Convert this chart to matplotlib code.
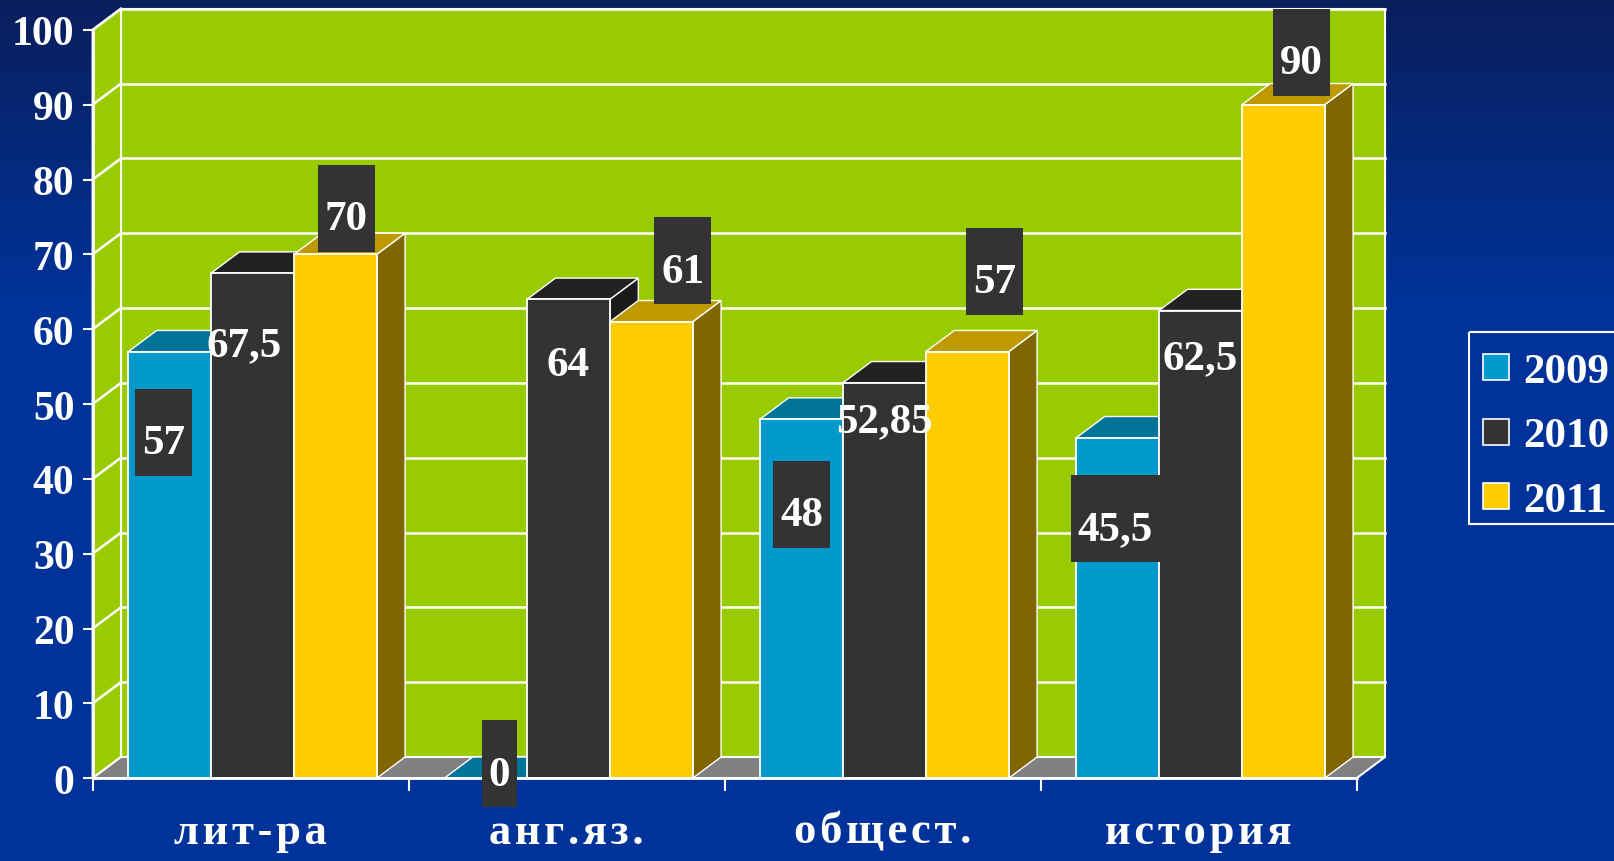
import numpy as np
import matplotlib
matplotlib.use('Agg')
import matplotlib.pyplot as plt
from matplotlib.patches import Polygon, Rectangle

# data
categories = ['лит-ра', 'анг.яз.', 'общест.', 'история']
years = ['2009', '2010', '2011']
vals_2009 = [57, 0, 48, 45.5]
vals_2010 = [67.5, 64, 52.85, 62.5]
vals_2011 = [70, 61, 57, 90]
text_2009 = ['57', '0', '48', '45,5']
text_2010 = ['67,5', '64', '52,85', '62,5']
text_2011 = ['70', '61', '57', '90']

# where the data labels sit, relative to bar top (value units) and bar centre (category units)
lab_dy = [[-11.7, 1.0, -12.3, -11.7], [-9.1, -8.3, -4.55, -5.8], [5.2, 7.2, 9.8, 6.1]]
lab_dx = [[-0.02, 0.043, 0.0, -0.008], [-0.027, 0.0, 0.0, 0.0], [0.034, 0.10, 0.086, 0.057]]

front = ['#0099cc', '#333333', '#ffcc00']
top = ['#007399', '#222222', '#bf9900']
side = ['#005a78', '#1a1a1a', '#806600']
wall = '#99cc00'


def main():
    plt.rcParams['font.family'] = ['Liberation Serif', 'DejaVu Serif']
    plt.rcParams['font.weight'] = 'bold'

    W, H = 1614, 862
    fig = plt.figure(figsize=(W / 100, H / 100), dpi=100)

    # background
    bg = fig.add_axes([0, 0, 1, 1])
    bg.set_xlim(0, W)
    bg.set_ylim(H, 0)
    bg.axis('off')
    t = np.clip(np.linspace(0, 1, H) / 0.35, 0, 1)[:, None, None]
    c0 = np.array([10, 30, 92]) / 255
    c1 = np.array([0, 51, 153]) / 255
    grad = c0 * (1 - t) + c1 * t
    bg.imshow(grad, extent=[0, W, H, 0], aspect='auto', zorder=0)

    # plot front plane
    ax = fig.add_axes([92.6 / W, 1 - 779.2 / H, 1264 / W, 748.3 / H])
    ax.set_xlim(0, 4)
    ax.set_ylim(0, 100)
    ax.patch.set_visible(False)
    DX = 28.4 / 316
    DY = 21.2 / 7.483

    # walls and floor
    ax.add_patch(Polygon([(DX, DY), (4 + DX, DY), (4 + DX, 100 + DY), (DX, 100 + DY)],
                         fc=wall, ec='white', lw=1.5, zorder=0.5, clip_on=False))
    ax.add_patch(Polygon([(0, 0), (DX, DY), (DX, 100 + DY), (0, 100)],
                         fc=wall, ec='white', lw=1.5, zorder=0.5, clip_on=False))
    for v in range(10, 101, 10):
        ax.plot([DX, 4 + DX], [v + DY, v + DY], color='white', lw=1.8, zorder=0.6, clip_on=False)
        ax.plot([0, DX], [v, v + DY], color='white', lw=1.8, zorder=0.6, clip_on=False)
    ax.add_patch(Polygon([(0, 0), (4, 0), (4 + DX, DY), (DX, DY)],
                         fc='#808080', ec='white', lw=1.5, zorder=0.7, clip_on=False))

    # bars
    series = [vals_2009, vals_2010, vals_2011]
    texts = [text_2009, text_2010, text_2011]
    BW = 0.262
    G0 = 0.113
    for i in range(len(categories)):
        for j, vals in enumerate(series):
            v = vals[i]
            x0 = i + G0 + j * BW
            ax.add_patch(Polygon([(x0 + BW, 0), (x0 + BW + DX, DY), (x0 + BW + DX, v + DY), (x0 + BW, v)],
                                 fc=side[j], ec='white', lw=1, zorder=2, clip_on=False))
            ax.add_patch(Polygon([(x0, v), (x0 + BW, v), (x0 + BW + DX, v + DY), (x0 + DX, v + DY)],
                                 fc=top[j], ec='white', lw=1, zorder=2, clip_on=False))
            ax.add_patch(Rectangle((x0, 0), BW, v, fc=front[j], ec='white', lw=1.3, zorder=2))

    # data labels
    boxed = []
    for i in range(len(categories)):
        for j, vals in enumerate(series):
            x = i + G0 + (j + 0.5) * BW + lab_dx[j][i]
            y = vals[i] + lab_dy[j][i]
            tx = ax.annotate(texts[j][i], (x, y), xytext=(0, -14), textcoords='offset pixels',
                             ha='center', va='baseline', color='white', fontsize=31,
                             zorder=6, annotation_clip=False)
            if j != 1:
                boxed.append((tx, x, y))

    fig.canvas.draw()
    r = fig.canvas.get_renderer()
    inv = ax.transData.inverted()
    for tx, x, y in boxed:
        e = tx.get_window_extent(r)
        cx, cy = ax.transData.transform((x, y))
        bx0, by0 = inv.transform((e.x0 - 7, cy + 7 - 43.5))
        bx1, by1 = inv.transform((e.x1 + 7, cy + 7 + 43.5))
        ax.add_patch(Rectangle((bx0, by0), bx1 - bx0, by1 - by0, fc='#333333', ec='none',
                               zorder=5, clip_on=False))

    # axes
    for s in ['top', 'right']:
        ax.spines[s].set_visible(False)
    for s in ['left', 'bottom']:
        ax.spines[s].set_color('white')
        ax.spines[s].set_linewidth(2)
    ax.set_yticks(range(0, 101, 10))
    ax.tick_params(axis='y', colors='white', labelsize=30, length=7, width=1.5, pad=6)
    ax.set_xticks(range(5))
    ax.set_xticklabels([])
    ax.set_xticks(np.arange(4) + 0.5, minor=True)
    # the category names are drawn with a little letter spacing
    ax.set_xticklabels(['\u200a'.join(c) for c in categories], minor=True)
    ax.tick_params(axis='x', which='major', colors='white', length=9, width=1.5)
    ax.tick_params(axis='x', which='minor', length=0, pad=24, labelsize=32, labelcolor='white')

    # legend
    bg.add_patch(Rectangle((1469, 333), 160, 192, fill=False, ec='white', lw=1.5, zorder=3))
    for k, yr in enumerate(years):
        yc = 368 + 64.5 * k
        bg.add_patch(Rectangle((1483, yc - 13), 26, 26, fc=front[k], ec='white', lw=1.2, zorder=3))
        bg.text(1523, yc + 15, yr, color='white', fontsize=31, va='baseline', ha='left', zorder=3)

    fig.savefig('out.png', dpi=100)


if __name__ == "__main__":
    main()
